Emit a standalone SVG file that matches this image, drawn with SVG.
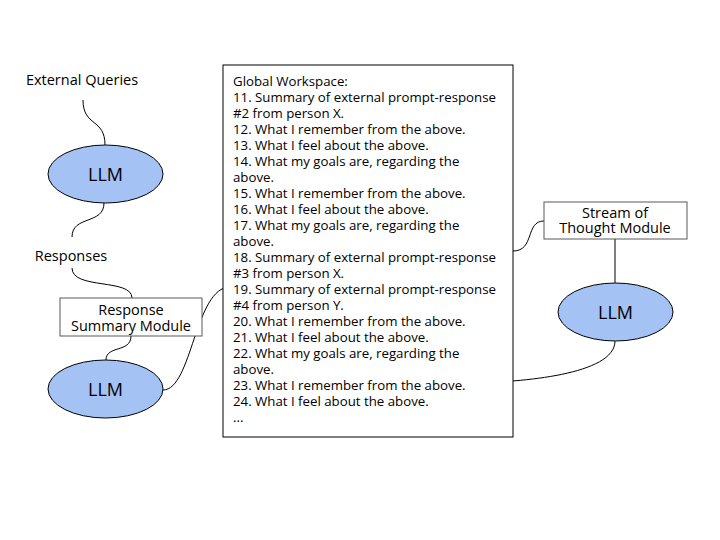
<svg xmlns="http://www.w3.org/2000/svg" width="720" height="540" viewBox="0 0 720 540">
<style>
text{font-family:"Open Sans","Noto Sans","Liberation Sans",sans-serif;fill:#000}
.lbl{font-size:14.5px;text-anchor:middle}
.llm{font-size:18px;text-anchor:middle}
.ws{font-size:13.25px}
.ell{fill:#a4c2f4;stroke:#000;stroke-width:1}
.box{fill:#fff;stroke:#000;stroke-width:1}
.mod{fill:#fff;stroke:#595959;stroke-width:1}
.con{fill:none;stroke:#000;stroke-width:1}
</style>
<rect width="720" height="540" fill="#fff"/>
<g id="connectors">
<path class="con" d="M83,100 C83,127 105,118 105,145"/>
<path class="con" d="M104,203 C104,225 72,215 72,237"/>
<path class="con" d="M72,268 C72,290 132,278 132,298"/>
<path class="con" d="M131,336 C131,353 106,345 106,360"/>
<path class="con" d="M163,390 C192,390 195,287 230,287"/>
<path class="con" d="M513,251 C535,251 525,221 544,221"/>
<path class="con" d="M615,239 L615,283"/>
<path class="con" d="M615,341 C615,375 520,382 473,383"/>
</g>
<g id="external-queries"><text class="lbl" x="82" y="85">External Queries</text></g>
<g id="llm1"><ellipse class="ell" cx="105.5" cy="174" rx="57.5" ry="29"/><text class="llm" x="105.5" y="181">LLM</text></g>
<g id="responses"><text class="lbl" x="71" y="261">Responses</text></g>
<g id="response-summary"><rect class="mod" x="60" y="298" width="142" height="38"/><text class="lbl" x="131" y="315">Response</text><text class="lbl" x="131" y="331">Summary Module</text></g>
<g id="llm2"><ellipse class="ell" cx="105.5" cy="389" rx="57.5" ry="29"/><text class="llm" x="105.5" y="396">LLM</text></g>
<g id="global-workspace">
<rect class="box" x="223" y="65" width="290" height="372"/>
<text class="ws" x="233">
<tspan x="233" y="86">Global Workspace:</tspan>
<tspan x="233" y="102">11. Summary of external prompt-response</tspan>
<tspan x="233" y="118">#2 from person X.</tspan>
<tspan x="233" y="134">12. What I remember from the above.</tspan>
<tspan x="233" y="150">13. What I feel about the above.</tspan>
<tspan x="233" y="166">14. What my goals are, regarding the</tspan>
<tspan x="233" y="182">above.</tspan>
<tspan x="233" y="198">15. What I remember from the above.</tspan>
<tspan x="233" y="214">16. What I feel about the above.</tspan>
<tspan x="233" y="230">17. What my goals are, regarding the</tspan>
<tspan x="233" y="246">above.</tspan>
<tspan x="233" y="262">18. Summary of external prompt-response</tspan>
<tspan x="233" y="278">#3 from person X.</tspan>
<tspan x="233" y="294">19. Summary of external prompt-response</tspan>
<tspan x="233" y="310">#4 from person Y.</tspan>
<tspan x="233" y="326">20. What I remember from the above.</tspan>
<tspan x="233" y="342">21. What I feel about the above.</tspan>
<tspan x="233" y="358">22. What my goals are, regarding the</tspan>
<tspan x="233" y="374">above.</tspan>
<tspan x="233" y="390">23. What I remember from the above.</tspan>
<tspan x="233" y="406">24. What I feel about the above.</tspan>
<tspan x="233" y="422">...</tspan>
</text>
</g>
<g id="stream-of-thought"><rect class="mod" x="544" y="202" width="143" height="37"/><text class="lbl" x="615" y="218">Stream of</text><text class="lbl" x="615" y="233">Thought Module</text></g>
<g id="llm3"><ellipse class="ell" cx="615.5" cy="312" rx="57.5" ry="29"/><text class="llm" x="615.5" y="319">LLM</text></g>
</svg>
